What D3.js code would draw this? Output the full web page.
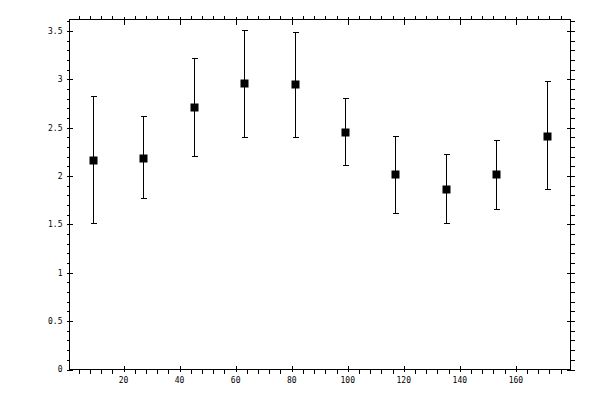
<!DOCTYPE html>
<html>
<head>
<meta charset="utf-8">
<script src="https://cdn.jsdelivr.net/npm/d3@7"></script>
<style>
  html, body { margin: 0; padding: 0; background: #fff; }
  svg { display: block; }
</style>
</head>
<body>
<div id="chart"></div>
<script>
const width = 600, height = 400;

// data
const xs = [9, 27, 45, 63, 81, 99, 117, 135, 153, 171];
const means = [2.17, 2.19, 2.72, 2.96, 2.95, 2.46, 2.02, 1.87, 2.02, 2.42];
const upper = [2.83, 2.62, 3.22, 3.51, 3.49, 2.81, 2.42, 2.23, 2.37, 2.98];
const lower = [1.52, 1.77, 2.21, 2.40, 2.40, 2.11, 1.62, 1.52, 1.66, 1.87];

const xMajor = [20, 40, 60, 80, 100, 120, 140, 160];
const yMajor = [0, 0.5, 1, 1.5, 2, 2.5, 3, 3.5];

const x = d3.scaleLinear().domain([0.7, 179.5]).range([69.5, 570.5]);
const y = d3.scaleLinear().domain([0, 3.62]).range([369.5, 19.5]);

const xMinor = d3.range(4, 180, 4).filter(v => v % 20 !== 0);
const yMinor = d3.range(1, 37).map(v => v / 10).filter(v => Math.round(v * 10) % 5 !== 0);

const svg = d3.select('#chart').append('svg')
              .attr('width', width)
              .attr('height', height)
              .attr('viewBox', [0, 0, width, height]);

const axisG = svg.append('g')
                 .attr('stroke', '#000')
                 .attr('stroke-width', 1)
                 .attr('shape-rendering', 'crispEdges');

const [x0, x1] = x.range();
const [y0, y1] = y.range();

// frame
axisG.append('rect')
     .attr('x', x0).attr('y', y1)
     .attr('width', x1 - x0).attr('height', y0 - y1)
     .attr('fill', 'none');

const px = v => Math.round(x(v)) + 0.5;
const py = v => Math.round(y(v)) + 0.5;

// bottom + top ticks
axisG.selectAll('.xmaj').data(xMajor).join('path')
     .attr('class', 'xmaj')
     .attr('d', d => `M${px(d)},${y0 + 2}V${y0 - 4}M${px(d)},${y1 - 3}V${y1 + 5}`);
axisG.selectAll('.xmin').data(xMinor).join('path')
     .attr('class', 'xmin')
     .attr('d', d => `M${px(d)},${y0}V${y0 + 4}M${px(d)},${y1}V${y1 - 4}`);

// left + right ticks
axisG.selectAll('.ymaj').data(yMajor).join('path')
     .attr('class', 'ymaj')
     .attr('d', d => `M${x0 - 3},${py(d)}H${x0 + 3}M${x1 - 4},${py(d)}H${x1 + 4}`);
axisG.selectAll('.ymin').data(yMinor).join('path')
     .attr('class', 'ymin')
     .attr('d', d => `M${x0 - 3},${py(d)}H${x0}M${x1},${py(d)}H${x1 + 4}`);

const textG = svg.append('g')
                 .attr('font-family', '"DejaVu Sans Mono", monospace')
                 .attr('font-size', 8)
                 .attr('fill', '#000');

textG.selectAll('.ylab').data(yMajor).join('text')
     .attr('class', 'ylab')
     .attr('x', x0 - 7)
     .attr('y', d => y(d))
     .attr('dy', '0.35em')
     .attr('text-anchor', 'end')
     .text(d => d3.format('~g')(d));

textG.selectAll('.xlab').data(xMajor).join('text')
     .attr('class', 'xlab')
     .attr('x', d => x(d))
     .attr('y', 383)
     .attr('text-anchor', 'middle')
     .text(d => d);

// error bars
const pts = xs.map((v, i) => ({x: v, m: means[i], hi: upper[i], lo: lower[i]}));

const barG = svg.append('g')
                .attr('stroke', '#000')
                .attr('stroke-width', 1)
                .attr('shape-rendering', 'crispEdges')
                .attr('fill', 'none');

barG.selectAll('path').data(pts).join('path')
    .attr('d', d => {
        const cx = px(d.x);
        return `M${cx},${py(d.hi)}V${py(d.lo)}` +
               `M${cx - 3},${py(d.hi)}H${cx + 3}` +
               `M${cx - 3},${py(d.lo)}H${cx + 3}`;
    });

svg.append('g').selectAll('rect').data(pts).join('rect')
   .attr('x', d => px(d.x) - 4)
   .attr('y', d => py(d.m) - 4)
   .attr('width', 8)
   .attr('height', 8)
   .attr('fill', '#000');
</script>
</body>
</html>
